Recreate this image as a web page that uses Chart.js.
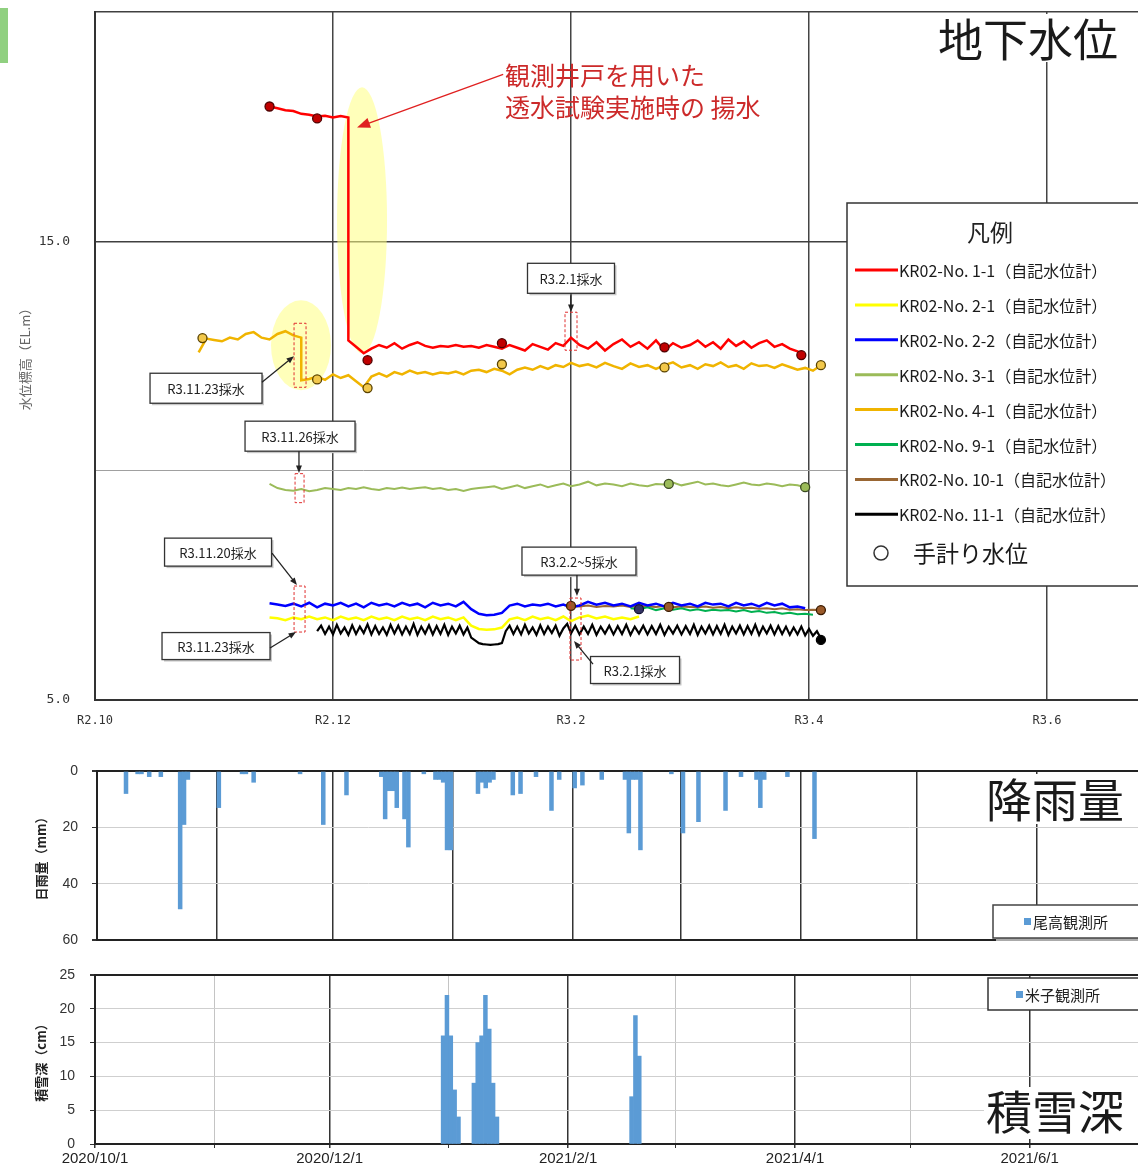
<!DOCTYPE html>
<html><head><meta charset="utf-8">
<script src="https://cdn.jsdelivr.net/npm/chart.js@4.4.1/dist/chart.umd.min.js"></script>
<style>
html,body{margin:0;padding:0;background:#fff;overflow:hidden;width:1138px;height:1171px;}
canvas{position:absolute;left:0;}
#mark{position:absolute;left:0;top:8px;width:8px;height:55px;background:#90d080;}
</style></head><body>
<div id="mark"></div>
<canvas id="c1" width="1200" height="740" style="top:0px"></canvas>
<canvas id="c2" width="1200" height="212" style="top:745px"></canvas>
<canvas id="c3" width="1200" height="211" style="top:960px"></canvas>
<script>
// ===== 地下水位 (top chart) =====
const wlTickMonths = [0, 2, 4, 6, 8];
const wlTickLabels = ['R2.10', 'R2.12', 'R3.2', 'R3.4', 'R3.6'];
const wlYTicks = [5, 10, 15, 20];
const wlYLabels = ['5.0', '', '15.0', ''];
const seriesNames = ['KR02-No. 1-1（自記水位計）','KR02-No. 2-1（自記水位計）','KR02-No. 2-2（自記水位計）','KR02-No. 3-1（自記水位計）','KR02-No. 4-1（自記水位計）','KR02-No. 9-1（自記水位計）','KR02-No. 10-1（自記水位計）','KR02-No. 11-1（自記水位計）'];
const seriesColors = ['#ff0000','#ffff00','#0000ff','#9bbb59','#f0b400','#00b050','#996633','#000000'];
const STEP = 2; // default sampling interval in days; day 0 = 2020/10/1

const no1_1_beforeStart = 45;
const no1_1_before = [17.94,17.9,17.86,17.84,17.78,17.76,17.72,17.74,17.7,17.73,17.7];
const no1_1_afterStart = 65;
const no1_1_after = [12.84,12.7,12.56,12.66,12.74,12.68,12.78,12.66,12.74,12.8,
 12.72,12.68,12.72,12.7,12.74,12.7,12.72,12.68,12.74,12.7,
 12.66,12.74,12.68,12.62,12.76,12.7,12.64,12.78,12.72,12.9,
 12.74,12.66,12.8,12.62,12.76,12.86,12.7,12.8,12.66,12.84,
 12.62,12.78,12.68,12.74,12.84,12.7,12.8,12.66,12.86,12.72,
 12.82,12.68,12.78,12.84,12.7,12.76,12.66,12.6,12.52];

const no2_1_start = 45;
const no2_1 = [6.8,6.78,6.74,6.8,6.76,6.82,6.76,6.8,6.74,6.82,
 6.76,6.8,6.74,6.82,6.76,6.8,6.74,6.82,6.76,6.8,
 6.74,6.82,6.76,6.8,6.74,6.8,6.62,6.55,6.53,6.54,
 6.58,6.76,6.8,6.74,6.82,6.76,6.8,6.74,6.82,6.72,
 6.8,6.84,6.78,6.82,6.76,6.8,6.76,6.82];

const no2_2_start = 45;
const no2_2 = [7.11,7.08,7.05,7.1,7.04,7.12,7.02,7.1,7.06,7.12,
 7.04,7.1,7.02,7.12,7.06,7.1,7.04,7.12,7.06,7.1,
 7.02,7.12,7.06,7.1,7.04,7.14,6.98,6.88,6.85,6.86,
 6.9,7.06,7.1,7.04,7.08,7.06,7.1,7.04,7.08,7.02,
 7.06,7.14,7.08,7.12,7.06,7.1,7.04,7.12,7.06,7.1,
 7.04,7.12,7.06,7.1,7.04,7.12,7.08,7.1,7.04,7.12,
 7.06,7.1,7.04,7.12,7.06,7.1,7.02,7.04,7.0];

const no3_1_start = 45;
const no3_1 = [9.71,9.62,9.58,9.56,9.6,9.55,9.58,9.62,9.6,9.58,
 9.62,9.6,9.64,9.6,9.58,9.62,9.6,9.63,9.6,9.62,
 9.64,9.6,9.62,9.58,9.6,9.56,9.6,9.62,9.64,9.66,
 9.6,9.64,9.68,9.62,9.66,9.7,9.64,9.68,9.72,9.66,
 9.7,9.76,9.68,9.72,9.7,9.66,9.72,9.68,9.66,9.71,
 9.7,9.74,9.68,9.72,9.76,9.7,9.72,9.68,9.66,9.7,
 9.74,9.7,9.68,9.72,9.7,9.66,9.7,9.68,9.64];

const no4_1_beforeStart = 27;
const no4_1_before = [12.58,12.88,12.85,12.82,12.9,12.86,12.98,13.02,12.9,12.86,12.98,13.04,12.95,12.9];
const no4_1_afterStart = 53;
const no4_1_after = [11.97,12.0,12.05,11.98,12.1,12.02,12.08,11.95,11.82,12.05,
 12.12,12.05,12.15,12.1,12.18,12.12,12.15,12.1,12.14,12.12,
 12.16,12.1,12.18,12.2,12.15,12.22,12.18,12.1,12.2,12.25,
 12.2,12.28,12.22,12.3,12.26,12.35,12.28,12.32,12.25,12.35,
 12.28,12.22,12.34,12.26,12.3,12.22,12.3,12.36,12.25,12.3,
 12.22,12.32,12.28,12.36,12.26,12.3,12.22,12.34,12.28,12.3,
 12.24,12.32,12.26,12.2,12.24,12.18,12.3];

const no9_1_start = 137;
const no9_1 = [7.0,6.98,7.02,6.96,7.0,6.97,7.0,6.95,6.98,6.94,6.97,6.95,6.96,6.93,6.96,6.92,6.94,6.9,6.92,6.88,6.9,6.87,6.88,6.86];

const no10_1_start = 123;
const no10_1 = [7.05,7.04,7.06,7.03,7.05,7.04,7.06,7.03,7.05,7.04,7.03,7.05,7.02,7.04,7.03,7.02,7.04,7.01,7.03,7.0,7.02,7.0,7.01,6.99,7.0,6.98,7.0,6.97,6.98,6.96,6.97,6.96];

// No.11-1 is sampled daily
const no11_1_start = 57;
const no11_1_step = 1;
const no11_1 = [6.5,6.62,6.44,6.6,6.43,6.64,6.45,6.58,6.42,6.63,
 6.44,6.6,6.46,6.65,6.43,6.61,6.44,6.58,6.42,6.64,
 6.45,6.62,6.43,6.6,6.44,6.66,6.42,6.6,6.45,6.63,
 6.43,6.61,6.44,6.64,6.42,6.6,6.45,6.62,6.43,6.58,
 6.36,6.3,6.24,6.22,6.21,6.2,6.21,6.22,6.24,6.5,
 6.62,6.44,6.6,6.43,6.64,6.45,6.58,6.42,6.63,6.44,
 6.6,6.46,6.62,6.4,6.56,6.66,6.45,6.62,6.43,6.6,
 6.44,6.64,6.42,6.6,6.45,6.62,6.43,6.61,6.44,6.64,
 6.42,6.6,6.45,6.62,6.43,6.61,6.44,6.64,6.42,6.6,
 6.45,6.62,6.43,6.61,6.44,6.64,6.42,6.6,6.45,6.62,
 6.43,6.61,6.44,6.64,6.42,6.6,6.45,6.62,6.43,6.61,
 6.44,6.64,6.42,6.6,6.45,6.62,6.43,6.61,6.44,6.6,
 6.42,6.58,6.43,6.6,6.41,6.55,6.4,6.5,6.34];

// 手計り水位 (manual readings): day, value
const man1_1_days = [45, 57, 70, 105, 145, 180];
const man1_1_vals = [17.94, 17.68, 12.41, 12.78, 12.69, 12.52];
const man4_1_days = [28, 57, 70, 105, 145, 185];
const man4_1_vals = [12.89, 11.99, 11.8, 12.32, 12.25, 12.3];
const man3_1_days = [146, 181];
const man3_1_vals = [9.71, 9.64];
const man2_2_days = [139];
const man2_2_vals = [6.98];
const man10_1_days = [123, 146, 185];
const man10_1_vals = [7.05, 7.03, 6.96];
const man11_1_days = [185];
const man11_1_vals = [6.31];

// ===== 降雨量 (尾高観測所) =====
const monthStarts = [0, 31, 61, 92, 123, 151, 182, 212, 243, 273];
const rainDays = [7,10,11,13,16,21,22,23,31,37,38,40,52,58,64,73,74,75,76,77,79,80,84,87,88,89,90,91,98,99,100,101,102,107,109,113,117,119,123,125,130,136,137,138,139,140,148,151,155,162,166,170,171,172,178,185];
const rainVals = [8,1,1,2,2,49,19,3,13,1,1,4,1,19,8.5,2,17,7,7,13,17,27,1,3,3,4,28,28,8,4,6,4,3,8.5,8,2,14,3,6,5,3,3,22,3,3,28,1,22,18,14,2,3,13,3,2,24];
const rainYTicks = [0, 20, 40, 60];

// ===== 積雪深 (米子観測所) =====
const snowDays = [90,91,92,93,94,98,99,100,101,102,103,104,139,140,141];
const snowVals = [16,22,16,8,4,9,15,16,22,17,9,4,7,19,13];
const snowYTicks = [0, 5, 10, 15, 20, 25];
const snowTickLabels = ['2020/10/1','','2020/12/1','','2021/2/1','','2021/4/1','','2021/6/1',''];

// ---------- helpers ----------
const BASE = Date.UTC(2020, 9, 1);
function dayToMonth(d) {
  const dt = new Date(BASE + d * 86400000);
  const y = dt.getUTCFullYear(), m = dt.getUTCMonth(), dd = dt.getUTCDate();
  const dim = new Date(Date.UTC(y, m + 1, 0)).getUTCDate();
  return (y - 2020) * 12 + (m - 9) + (dd - 1) / dim;
}
function seq(start, vals, step) { const st = step || STEP; return vals.map((v, i) => ({x: dayToMonth(start + i * st), y: v})); }
function pts(days, vals) { return days.map((d, i) => ({x: dayToMonth(d), y: vals[i]})); }
const JP = '"Noto Sans CJK JP", sans-serif';

function arrow(ctx, x1, y1, x2, y2, color, head, lw) {
  ctx.save(); ctx.strokeStyle = color; ctx.fillStyle = color; ctx.lineWidth = lw || 1.3;
  const a = Math.atan2(y2 - y1, x2 - x1);
  ctx.beginPath(); ctx.moveTo(x1, y1); ctx.lineTo(x2 - head * 0.7 * Math.cos(a), y2 - head * 0.7 * Math.sin(a)); ctx.stroke();
  ctx.beginPath(); ctx.moveTo(x2, y2);
  ctx.lineTo(x2 - head * Math.cos(a - 0.38), y2 - head * Math.sin(a - 0.38));
  ctx.lineTo(x2 - head * Math.cos(a + 0.38), y2 - head * Math.sin(a + 0.38));
  ctx.closePath(); ctx.fill(); ctx.restore();
}
function noteBox(ctx, cx, cy, w, h, text) {
  ctx.save();
  ctx.fillStyle = '#c8c8c8'; ctx.fillRect(cx - w / 2 + 2, cy - h / 2 + 2, w, h);
  ctx.fillStyle = '#fff'; ctx.fillRect(cx - w / 2, cy - h / 2, w, h);
  ctx.strokeStyle = '#333'; ctx.lineWidth = 1.3; ctx.strokeRect(cx - w / 2, cy - h / 2, w, h);
  ctx.fillStyle = '#222'; ctx.font = '13px ' + JP; ctx.textAlign = 'center'; ctx.textBaseline = 'middle';
  ctx.fillText(text, cx, cy + 1);
  ctx.restore();
}

// annotation layout (in chart data coordinates: month, EL.m)
const wlNotes = [
  {t: 'R3.2.1採水', m: 4.0, v: 14.194, w: 87, h: 30, a: [4.0, 13.867, 4.0, 13.46]},
  {t: 'R3.11.23採水', m: 0.933, v: 11.797, w: 112, h: 30, a: [1.403, 11.93, 1.672, 12.495]},
  {t: 'R3.11.26採水', m: 1.723, v: 10.752, w: 110, h: 30, a: [1.714, 10.425, 1.714, 9.95]},
  {t: 'R3.11.20採水', m: 1.034, v: 8.224, w: 107, h: 28, a: [1.487, 8.203, 1.697, 7.505]},
  {t: 'R3.11.23採水', m: 1.017, v: 6.176, w: 108, h: 27, a: [1.471, 6.133, 1.689, 6.481]},
  {t: 'R3.2.2~5採水', m: 4.067, v: 8.028, w: 114, h: 28, a: [4.05, 7.723, 4.05, 7.266]},
  {t: 'R3.2.1採水', m: 4.538, v: 5.654, w: 89, h: 27, a: [4.185, 5.784, 4.025, 6.285]}
];
const wlDashed = [
  {m: 4.0, v: 13.04, w: 12, h: 38}, {m: 1.723, v: 12.516, w: 12, h: 64},
  {m: 1.719, v: 9.619, w: 9, h: 29}, {m: 1.719, v: 6.983, w: 11, h: 46},
  {m: 4.038, v: 6.547, w: 11, h: 62}
];
const wlGlow = [{m: 2.244, v: 15.458, rx: 25, ry: 133}, {m: 1.731, v: 12.734, rx: 30, ry: 45}];

const wlPlugin = {
  id: 'wlDeco',
  beforeDatasetsDraw(chart) {
    const {ctx, scales: {x, y}} = chart;
    ctx.save(); ctx.fillStyle = 'rgba(255,255,130,0.55)';
    wlGlow.forEach(g => { ctx.beginPath(); ctx.ellipse(x.getPixelForValue(g.m), y.getPixelForValue(g.v), g.rx, g.ry, 0, 0, Math.PI * 2); ctx.fill(); });
    ctx.restore();
  },
  afterDatasetsDraw(chart) {
    const {ctx, scales: {x, y}} = chart;
    ctx.save(); ctx.strokeStyle = '#e03030'; ctx.lineWidth = 1; ctx.setLineDash([3, 2]);
    wlDashed.forEach(d => { const cx = x.getPixelForValue(d.m), cy = y.getPixelForValue(d.v); ctx.strokeRect(cx - d.w / 2, cy - d.h / 2, d.w, d.h); });
    ctx.restore();
    wlNotes.forEach(n => {
      noteBox(ctx, x.getPixelForValue(n.m), y.getPixelForValue(n.v), n.w, n.h, n.t);
      arrow(ctx, x.getPixelForValue(n.a[0]), y.getPixelForValue(n.a[1]), x.getPixelForValue(n.a[2]), y.getPixelForValue(n.a[3]), '#222', 8);
    });
    ctx.save(); ctx.fillStyle = '#cc2a2a'; ctx.font = '25px ' + JP; ctx.textAlign = 'left'; ctx.textBaseline = 'middle';
    const tx = x.getPixelForValue(3.445);
    ctx.fillText('観測井戸を用いた', tx, y.getPixelForValue(18.617));
    ctx.fillText('透水試験実施時の 揚水', tx, y.getPixelForValue(17.92));
    ctx.restore();
    arrow(ctx, x.getPixelForValue(3.43), y.getPixelForValue(18.64), x.getPixelForValue(2.202), y.getPixelForValue(17.484), '#e02020', 14, 1.3);
  },
  afterDraw(chart) {
    const ctx = chart.ctx;
    ctx.save();
    ctx.fillStyle = '#fff'; ctx.fillRect(934, 14, 210, 48);
    ctx.fillStyle = '#1a1a1a'; ctx.font = '45px ' + JP; ctx.textBaseline = 'middle'; ctx.textAlign = 'left';
    ctx.fillText('地下水位', 938, 40);
    ctx.fillStyle = '#fff'; ctx.fillRect(847, 203, 320, 383);
    ctx.strokeStyle = '#333'; ctx.lineWidth = 1.5; ctx.strokeRect(847, 203, 320, 383);
    ctx.fillStyle = '#222'; ctx.font = '23px ' + JP; ctx.textAlign = 'center';
    ctx.fillText('凡例', 990, 232);
    ctx.textAlign = 'left'; ctx.font = '16px ' + JP;
    seriesNames.forEach((nm, i) => {
      const yy = 270 + i * 34.9;
      ctx.strokeStyle = seriesColors[i]; ctx.lineWidth = 3;
      ctx.beginPath(); ctx.moveTo(855, yy); ctx.lineTo(898, yy); ctx.stroke();
      ctx.fillStyle = '#1a1a1a'; ctx.fillText(nm, 899, yy + 1);
    });
    ctx.strokeStyle = '#333'; ctx.lineWidth = 1.5;
    ctx.beginPath(); ctx.arc(881, 553, 7, 0, Math.PI * 2); ctx.stroke();
    ctx.font = '23px ' + JP; ctx.fillText('手計り水位', 913, 553);
    ctx.restore();
  }
};

function manualDs(days, vals, fill, border) {
  return {label: '手計り水位', data: pts(days, vals), showLine: false, pointRadius: 4.5, pointBackgroundColor: fill, pointBorderColor: border, pointBorderWidth: 1.3, borderColor: border};
}
function lineDs(i, data, w) {
  return {label: seriesNames[i], data: data, borderColor: seriesColors[i], borderWidth: w || 2, pointRadius: 0, tension: 0, fill: false};
}
function noPad(width) { return s => { s.width = width; s.paddingTop = 0; s.paddingBottom = 0; }; }

new Chart(document.getElementById('c1'), {
  type: 'line',
  data: {datasets: [
    manualDs(man1_1_days, man1_1_vals, '#c00000', '#500000'),
    manualDs(man4_1_days, man4_1_vals, '#f2c84b', '#5a4300'),
    manualDs(man3_1_days, man3_1_vals, '#9bbb59', '#3a4a20'),
    manualDs(man2_2_days, man2_2_vals, '#333366', '#111133'),
    manualDs(man10_1_days, man10_1_vals, '#9a5a2a', '#3a1a00'),
    manualDs(man11_1_days, man11_1_vals, '#000000', '#000000'),
    lineDs(0, seq(no1_1_beforeStart, no1_1_before).concat(seq(no1_1_afterStart, no1_1_after)), 2.5),
    lineDs(2, seq(no2_2_start, no2_2), 2.5),
    lineDs(1, seq(no2_1_start, no2_1), 2.5),
    lineDs(3, seq(no3_1_start, no3_1), 2),
    lineDs(4, seq(no4_1_beforeStart, no4_1_before).concat(seq(no4_1_afterStart, no4_1_after)), 2.5),
    lineDs(5, seq(no9_1_start, no9_1), 2),
    lineDs(6, seq(no10_1_start, no10_1), 2),
    lineDs(7, seq(no11_1_start, no11_1, no11_1_step), 2.2)
  ]},
  options: {
    responsive: false, animation: false, devicePixelRatio: 1,
    layout: {padding: {left: 0, right: 34, top: 12, bottom: 0}},
    plugins: {legend: {display: false}, tooltip: {enabled: false}},
    scales: {
      x: {type: 'linear', min: 0, max: 9,
        afterBuildTicks: s => { s.ticks = wlTickMonths.map(v => ({value: v})); },
        afterFit: s => { s.height = 40; },
        ticks: {autoSkip: false, maxRotation: 0, padding: 14, color: '#333', font: {family: 'DejaVu Sans Mono', size: 12},
          callback: v => { const i = wlTickMonths.indexOf(v); return i >= 0 ? wlTickLabels[i] : ''; }},
        grid: {color: '#444', lineWidth: 1.5, drawTicks: false, offset: false},
        border: {color: '#333', width: 2}
      },
      y: {min: 5, max: 20,
        afterBuildTicks: s => { s.ticks = wlYTicks.map(v => ({value: v})); },
        afterFit: noPad(95),
        ticks: {padding: 25, color: '#333', font: {family: 'DejaVu Sans Mono', size: 13},
          callback: v => { const i = wlYTicks.indexOf(v); return i >= 0 ? wlYLabels[i] : ''; }},
        grid: {color: c => c.tick && c.tick.value === 10 ? '#a0a0a0' : '#404040', lineWidth: c => c.tick && c.tick.value === 10 ? 1 : 1.5, drawTicks: false},
        border: {color: '#333', width: 2},
        title: {display: true, text: '水位標高（EL.m）', color: '#666', font: {family: JP, size: 13}, padding: {top: 17}}
      }
    }
  },
  plugins: [wlPlugin]
});

// ---------- rain ----------
const rainPlugin = {
  id: 'rainDeco',
  afterDraw(chart) {
    const ctx = chart.ctx; ctx.save();
    ctx.fillStyle = '#fff'; ctx.fillRect(984, 29, 160, 50);
    ctx.fillStyle = '#1a1a1a'; ctx.font = '46px ' + JP; ctx.textBaseline = 'middle'; ctx.textAlign = 'left';
    ctx.fillText('降雨量', 986, 55);
    ctx.fillStyle = '#aaa'; ctx.fillRect(996, 163, 160, 33);
    ctx.fillStyle = '#fff'; ctx.fillRect(993, 160, 160, 33);
    ctx.strokeStyle = '#444'; ctx.lineWidth = 1.5; ctx.strokeRect(993, 160, 160, 33);
    ctx.fillStyle = '#5b9bd5'; ctx.fillRect(1024, 173, 7, 7);
    ctx.fillStyle = '#222'; ctx.font = '15px ' + JP; ctx.fillText('尾高観測所', 1033, 177);
    ctx.restore();
  }
};
new Chart(document.getElementById('c2'), {
  type: 'bar',
  data: {datasets: [{label: '尾高観測所', data: rainDays.map((d, i) => ({x: d + 0.5, y: rainVals[i]})), backgroundColor: '#5b9bd5', barPercentage: 1, categoryPercentage: 1}]},
  options: {
    responsive: false, animation: false, devicePixelRatio: 1,
    layout: {padding: {left: 0, right: 20, top: 26, bottom: 0}},
    plugins: {legend: {display: false}, tooltip: {enabled: false}},
    scales: {
      x: {type: 'linear', min: 0, max: 280, offset: false,
        afterBuildTicks: s => { s.ticks = monthStarts.map(v => ({value: v})); },
        afterFit: s => { s.height = 17; },
        ticks: {display: false},
        grid: {color: '#333', lineWidth: 1.5, drawTicks: false, offset: false},
        border: {display: false}
      },
      y: {reverse: true, min: 0, max: 60,
        afterBuildTicks: s => { s.ticks = rainYTicks.map(v => ({value: v})); },
        afterFit: noPad(97),
        ticks: {padding: 14, color: '#333', font: {family: 'Liberation Sans', size: 14}},
        grid: {color: c => (c.tick && (c.tick.value === 0 || c.tick.value === 60)) ? '#222' : '#cfcfcf',
               lineWidth: c => (c.tick && (c.tick.value === 0 || c.tick.value === 60)) ? 2 : 1,
               tickColor: '#333', tickLength: 5},
        border: {color: '#222', width: 2},
        title: {display: true, text: '日雨量（mm）', color: '#222', font: {family: JP, size: 13, weight: 'bold'}, padding: {top: 33}}
      }
    }
  },
  plugins: [rainPlugin]
});

// ---------- snow ----------
const snowPlugin = {
  id: 'snowDeco',
  afterDraw(chart) {
    const ctx = chart.ctx; ctx.save();
    ctx.fillStyle = '#fff'; ctx.fillRect(984, 127, 160, 52);
    ctx.fillStyle = '#1a1a1a'; ctx.font = '46px ' + JP; ctx.textBaseline = 'middle'; ctx.textAlign = 'left';
    ctx.fillText('積雪深', 986, 152);
    ctx.fillStyle = '#fff'; ctx.fillRect(988, 18, 170, 32);
    ctx.strokeStyle = '#333'; ctx.lineWidth = 1.5; ctx.strokeRect(988, 18, 170, 32);
    ctx.fillStyle = '#5b9bd5'; ctx.fillRect(1016, 31, 7, 7);
    ctx.fillStyle = '#222'; ctx.font = '15px ' + JP; ctx.fillText('米子観測所', 1025, 35);
    ctx.restore();
  }
};
new Chart(document.getElementById('c3'), {
  type: 'bar',
  data: {datasets: [{label: '米子観測所', data: snowDays.map((d, i) => ({x: d + 0.5, y: snowVals[i]})), backgroundColor: '#5b9bd5', barPercentage: 1, categoryPercentage: 1}]},
  options: {
    responsive: false, animation: false, devicePixelRatio: 1,
    layout: {padding: {left: 0, right: 28, top: 15, bottom: 0}},
    plugins: {legend: {display: false}, tooltip: {enabled: false}},
    scales: {
      x: {type: 'linear', min: 0, max: 280, offset: false,
        afterBuildTicks: s => { s.ticks = monthStarts.map(v => ({value: v})); },
        afterFit: s => { s.height = 27; },
        ticks: {autoSkip: false, maxRotation: 0, padding: 2, color: '#222', font: {family: 'Liberation Sans', size: 15},
          callback: v => { const i = monthStarts.indexOf(v); return i >= 0 ? snowTickLabels[i] : ''; }},
        grid: {offset: false,
               color: c => { const i = c.tick ? monthStarts.indexOf(c.tick.value) : -1; return i % 2 === 0 ? '#333' : '#c4c4c4'; },
               lineWidth: c => { const i = c.tick ? monthStarts.indexOf(c.tick.value) : -1; return i % 2 === 0 ? 1.5 : 1; },
               tickLength: 4, tickColor: '#333'},
        border: {color: '#222', width: 2}
      },
      y: {min: 0, max: 25,
        afterBuildTicks: s => { s.ticks = snowYTicks.map(v => ({value: v})); },
        afterFit: noPad(95),
        ticks: {padding: 15, color: '#333', font: {family: 'Liberation Sans', size: 14}},
        grid: {color: c => (c.tick && c.tick.value === 25) ? '#222' : '#cfcfcf',
               lineWidth: c => (c.tick && c.tick.value === 25) ? 2 : 1,
               tickColor: '#333', tickLength: 5},
        border: {color: '#222', width: 2},
        title: {display: true, text: '積雪深（cm）', color: '#222', font: {family: JP, size: 13, weight: 'bold'}, padding: {top: 33}}
      }
    }
  },
  plugins: [snowPlugin]
});
</script>
</body></html>
